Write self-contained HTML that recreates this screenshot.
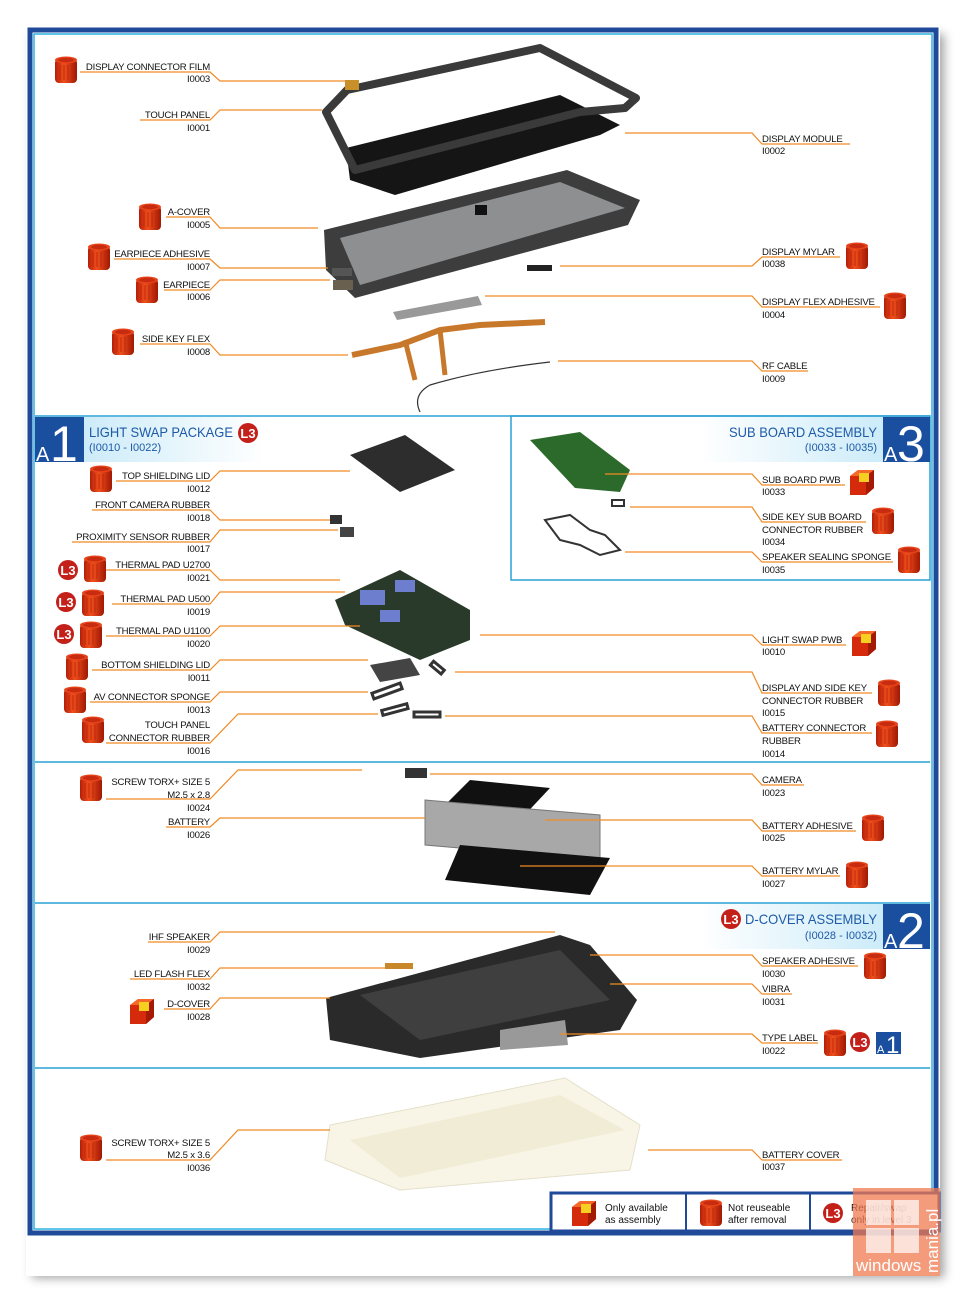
<!DOCTYPE html>
<html><head><meta charset="utf-8"><style>
html,body{margin:0;padding:0;background:#fff;width:967px;height:1302px;overflow:hidden}
svg{display:block;font-family:"Liberation Sans",sans-serif}
.l{font-size:9.6px;letter-spacing:-0.2px;fill:#111;text-anchor:end}
.r{font-size:9.6px;letter-spacing:-0.2px;fill:#111}
.o{stroke:#f08a24;stroke-width:1.2;fill:none}
.h{font-size:14px;fill:#1d5aa8}
.hs{font-size:11px;fill:#1d5aa8}
.sec{stroke:#2aa0d4;stroke-width:1.5;fill:none}
</style></head><body>
<svg width="967" height="1302" viewBox="0 0 967 1302" xmlns="http://www.w3.org/2000/svg">
<defs>
<filter id="sh" x="-5%" y="-5%" width="110%" height="110%"><feGaussianBlur stdDeviation="5"/></filter>
<linearGradient id="bin" x1="0" x2="1"><stop offset="0" stop-color="#b51e08"/><stop offset=".4" stop-color="#f0501c"/><stop offset="1" stop-color="#a01804"/></linearGradient>
<linearGradient id="hg" x1="0" x2="1"><stop offset="0" stop-color="#bfe6f7"/><stop offset="1" stop-color="#fff"/></linearGradient>
<linearGradient id="hg2" x1="1" x2="0"><stop offset="0" stop-color="#bfe6f7"/><stop offset="1" stop-color="#fff"/></linearGradient>
<g id="b"><rect x="0" y="3" width="22" height="24" rx="4" fill="url(#bin)"/><ellipse cx="11" cy="4" rx="11" ry="3.5" fill="#e8441a"/><ellipse cx="11" cy="4" rx="8" ry="2.2" fill="#c72c10"/><path d="M5 9v15M9 9v15M13 9v15M17 9v15" stroke="#c0270c" stroke-width="1"/></g>
<g id="c"><path d="M0 8 L8 2 L24 2 L24 20 L16 27 L0 27Z" fill="#d52a0c"/><path d="M0 8 L8 2 L24 2 L16 8Z" fill="#f56a2a"/><path d="M16 8 L24 2 L24 20 L16 27Z" fill="#a51a04"/><rect x="9" y="5" width="10" height="9" fill="#f5d020"/></g>
<g id="l3"><circle cx="10" cy="10" r="10" fill="#c4201a"/><text x="10" y="15" font-size="13" font-weight="bold" fill="#fff" text-anchor="middle">L3</text></g>
</defs>

<rect x="32" y="34" width="912" height="1244" fill="#555" opacity=".55" filter="url(#sh)"/>
<rect x="26" y="26" width="914" height="1250" fill="#fff"/>
<rect x="30" y="30" width="906" height="1203" fill="none" stroke="#1f4a9a" stroke-width="5"/>
<rect x="34" y="34" width="898" height="1195" fill="none" stroke="#2ab4e0" stroke-width="1.5"/>

<path class="sec" d="M35 416H930M35 762H930M35 903H930M35 1068H930"/>
<rect x="511" y="416" width="419" height="164" fill="none" stroke="#2aa0d4" stroke-width="1.5"/>

<rect x="35" y="417" width="230" height="45" fill="url(#hg)"/>
<rect x="35" y="417" width="49" height="45" fill="#1a4fa0"/>
<text x="36" y="461" font-size="20" fill="#fff">A</text>
<text x="50" y="461" font-size="50" fill="#fff">1</text>
<text class="h" x="89" y="437" textLength="144" lengthAdjust="spacingAndGlyphs">LIGHT SWAP PACKAGE</text>
<use href="#l3" x="238" y="423"/>
<text class="hs" x="89" y="451">(I0010 - I0022)</text>
<rect x="700" y="417" width="230" height="45" fill="url(#hg2)"/>
<rect x="883" y="417" width="47" height="45" fill="#1a4fa0"/>
<text x="884" y="461" font-size="20" fill="#fff">A</text>
<text x="897" y="461" font-size="50" fill="#fff">3</text>
<text class="h" x="877" y="437" text-anchor="end" textLength="148" lengthAdjust="spacingAndGlyphs">SUB BOARD ASSEMBLY</text>
<text class="hs" x="877" y="451" text-anchor="end">(I0033 - I0035)</text>
<rect x="700" y="904" width="230" height="45" fill="url(#hg2)"/>
<rect x="883" y="904" width="47" height="45" fill="#1a4fa0"/>
<text x="884" y="948" font-size="20" fill="#fff">A</text>
<text x="897" y="948" font-size="50" fill="#fff">2</text>
<text class="h" x="877" y="924" text-anchor="end" textLength="132" lengthAdjust="spacingAndGlyphs">D-COVER ASSEMBLY</text>
<use href="#l3" x="721" y="909"/>
<text class="hs" x="877" y="939" text-anchor="end">(I0028 - I0032)</text>

<!-- parts -->
<polygon points="346,148 560,95 620,125 600,135 395,195 350,180" fill="#151515"/>
<polygon points="347,90 540,48 636,98 625,108 580,112 355,170 326,112" fill="none" stroke="#3a3a3a" stroke-width="8" stroke-linejoin="round"/>
<rect x="345" y="80" width="14" height="10" fill="#c8902a"/>
<polygon points="324,230 567,170 640,200 628,225 355,298 326,270" fill="#3d3d3d"/>
<polygon points="340,238 560,182 625,208 360,285" fill="#8d8f90"/>
<rect x="475" y="205" width="12" height="10" fill="#111"/>
<polygon points="393,312 478,296 482,305 397,320" fill="#999"/>
<path d="M352,355 L400,345 L440,330 L480,325 L545,322" stroke="#c8782a" stroke-width="6" fill="none"/>
<path d="M405,340 L415,380 M440,330 L445,375" stroke="#c8782a" stroke-width="5"/>
<path d="M550,362 Q480,370 430,385 Q412,395 420,412" stroke="#333" stroke-width="1.2" fill="none"/>
<rect x="332" y="268" width="20" height="8" fill="#555"/><rect x="333" y="280" width="20" height="10" fill="#6a6050"/>
<rect x="527" y="265" width="25" height="6" fill="#222"/>
<polygon points="350,455 405,435 455,470 400,492" fill="#2d2d2d"/>
<rect x="330" y="515" width="12" height="9" fill="#333"/><rect x="340" y="527" width="14" height="10" fill="#444"/>
<polygon points="335,600 400,570 470,610 470,640 420,660 345,625" fill="#2a3a2a"/>
<rect x="360" y="590" width="25" height="15" fill="#6d7ecf"/><rect x="395" y="580" width="20" height="12" fill="#6d7ecf"/><rect x="380" y="610" width="20" height="12" fill="#6d7ecf"/>
<polygon points="370,665 410,658 420,675 380,682" fill="#444"/>
<rect x="372" y="688" width="30" height="6" fill="none" stroke="#333" stroke-width="3" transform="rotate(-20 387 691)"/>
<rect x="382" y="707" width="26" height="5" fill="none" stroke="#333" stroke-width="3" transform="rotate(-15 395 710)"/>
<rect x="414" y="712" width="26" height="5" fill="none" stroke="#333" stroke-width="3"/>
<rect x="430" y="665" width="14" height="5" fill="none" stroke="#333" stroke-width="3" transform="rotate(40 437 668)"/>
<polygon points="530,440 580,432 630,470 620,492 575,488" fill="#2b6a2b"/>
<path d="M545,520 L570,515 L590,530 L605,535 L620,550 L600,555 L580,545 L560,540 Z" fill="none" stroke="#333" stroke-width="2"/>
<rect x="612" y="500" width="12" height="6" fill="none" stroke="#333" stroke-width="2"/>
<rect x="405" y="768" width="22" height="10" fill="#333"/>
<polygon points="470,780 550,788 520,820 440,810" fill="#111"/>
<polygon points="425,800 600,815 600,860 425,845" fill="#a8a8a8" stroke="#777"/>
<polygon points="460,845 610,858 590,895 445,880" fill="#111"/>
<polygon points="326,998 560,935 590,945 637,1000 620,1030 420,1058 330,1040" fill="#2a2a2a"/>
<polygon points="360,995 560,950 610,1000 420,1040" fill="#3f3f3f"/>
<polygon points="500,1030 565,1020 568,1045 500,1050" fill="#999"/>
<rect x="385" y="963" width="28" height="6" fill="#c8882a"/>
<polygon points="330,1125 565,1078 640,1125 630,1170 400,1190 325,1160" fill="#f8f5e6" stroke="#e4e0cc"/>
<polygon points="350,1140 560,1095 625,1130 400,1178" fill="#f1ecd6"/>

<g class="o">
<path d="M80 72H210L220 81H345"/>
<path d="M140 120H210L220 110H322"/>
<path d="M166 217H210L220 228H318"/>
<path d="M114 259H210L220 268H328"/>
<path d="M164 290H210L220 280H330"/>
<path d="M140 344H210L220 355H348"/>
<path d="M116 481H210L220 471H350"/>
<path d="M92 510H210L220 520H330"/>
<path d="M72 542H210L220 530H338"/>
<path d="M106 570H210L220 580H340"/>
<path d="M112 604H210L220 592H345"/>
<path d="M106 636H210L220 626H360"/>
<path d="M92 670H210L220 660H368"/>
<path d="M90 702H210L220 692H368"/>
<path d="M106 743H210L238 714H378"/>
<path d="M106 799H210L238 770H362"/>
<path d="M166 827H210L220 818H425"/>
<path d="M148 942H210L220 932H555"/>
<path d="M130 979H210L220 968H385"/>
<path d="M164 1009H210L220 998H330"/>
<path d="M106 1160H210L238 1130H330"/>
</g>
<g class="o">
<path d="M625 133H752L762 144H850"/>
<path d="M560 266H752L762 257H840"/>
<path d="M485 296H752L762 307H880"/>
<path d="M558 361H752L762 371H808"/>
<path d="M605 474H752L762 485H845"/>
<path d="M630 507H752L762 522H866"/>
<path d="M625 552H752L762 562H893"/>
<path d="M480 635H752L762 645H846"/>
<path d="M455 672H752L762 693H872"/>
<path d="M445 716H752L762 733H872"/>
<path d="M430 774H752L762 785H804"/>
<path d="M545 820H752L762 831H856"/>
<path d="M520 866H752L762 876H840"/>
<path d="M590 955H752L762 966H858"/>
<path d="M610 984H752L762 994H792"/>
<path d="M560 1034H752L762 1043H818"/>
<path d="M648 1150H752L762 1160H842"/>
</g>

<text class="l" x="210" y="70">DISPLAY CONNECTOR FILM</text><text class="l" x="210" y="82">I0003</text>
<text class="l" x="210" y="118">TOUCH PANEL</text><text class="l" x="210" y="131">I0001</text>
<text class="l" x="210" y="215">A-COVER</text><text class="l" x="210" y="228">I0005</text>
<text class="l" x="210" y="257">EARPIECE ADHESIVE</text><text class="l" x="210" y="270">I0007</text>
<text class="l" x="210" y="288">EARPIECE</text><text class="l" x="210" y="300">I0006</text>
<text class="l" x="210" y="342">SIDE KEY FLEX</text><text class="l" x="210" y="355">I0008</text>
<text class="l" x="210" y="479">TOP SHIELDING LID</text><text class="l" x="210" y="492">I0012</text>
<text class="l" x="210" y="508">FRONT CAMERA RUBBER</text><text class="l" x="210" y="521">I0018</text>
<text class="l" x="210" y="540">PROXIMITY SENSOR RUBBER</text><text class="l" x="210" y="552">I0017</text>
<text class="l" x="210" y="568">THERMAL PAD U2700</text><text class="l" x="210" y="581">I0021</text>
<text class="l" x="210" y="602">THERMAL PAD U500</text><text class="l" x="210" y="615">I0019</text>
<text class="l" x="210" y="634">THERMAL PAD U1100</text><text class="l" x="210" y="647">I0020</text>
<text class="l" x="210" y="668">BOTTOM SHIELDING LID</text><text class="l" x="210" y="681">I0011</text>
<text class="l" x="210" y="700">AV CONNECTOR SPONGE</text><text class="l" x="210" y="713">I0013</text>
<text class="l" x="210" y="728">TOUCH PANEL</text><text class="l" x="210" y="741">CONNECTOR RUBBER</text><text class="l" x="210" y="754">I0016</text>
<text class="l" x="210" y="785">SCREW TORX+ SIZE 5</text><text class="l" x="210" y="798">M2.5 x 2.8</text><text class="l" x="210" y="811">I0024</text>
<text class="l" x="210" y="825">BATTERY</text><text class="l" x="210" y="838">I0026</text>
<text class="l" x="210" y="940">IHF SPEAKER</text><text class="l" x="210" y="953">I0029</text>
<text class="l" x="210" y="977">LED FLASH FLEX</text><text class="l" x="210" y="990">I0032</text>
<text class="l" x="210" y="1007">D-COVER</text><text class="l" x="210" y="1020">I0028</text>
<text class="l" x="210" y="1146">SCREW TORX+ SIZE 5</text><text class="l" x="210" y="1158">M2.5 x 3.6</text><text class="l" x="210" y="1171">I0036</text>

<text class="r" x="762" y="142">DISPLAY MODULE</text><text class="r" x="762" y="154">I0002</text>
<text class="r" x="762" y="255">DISPLAY MYLAR</text><text class="r" x="762" y="267">I0038</text>
<text class="r" x="762" y="305">DISPLAY FLEX ADHESIVE</text><text class="r" x="762" y="318">I0004</text>
<text class="r" x="762" y="369">RF CABLE</text><text class="r" x="762" y="382">I0009</text>
<text class="r" x="762" y="483">SUB BOARD PWB</text><text class="r" x="762" y="495">I0033</text>
<text class="r" x="762" y="520">SIDE KEY SUB BOARD</text><text class="r" x="762" y="533">CONNECTOR RUBBER</text><text class="r" x="762" y="545">I0034</text>
<text class="r" x="762" y="560">SPEAKER SEALING SPONGE</text><text class="r" x="762" y="573">I0035</text>
<text class="r" x="762" y="643">LIGHT SWAP PWB</text><text class="r" x="762" y="655">I0010</text>
<text class="r" x="762" y="691">DISPLAY AND SIDE KEY</text><text class="r" x="762" y="704">CONNECTOR RUBBER</text><text class="r" x="762" y="716">I0015</text>
<text class="r" x="762" y="731">BATTERY CONNECTOR</text><text class="r" x="762" y="744">RUBBER</text><text class="r" x="762" y="757">I0014</text>
<text class="r" x="762" y="783">CAMERA</text><text class="r" x="762" y="796">I0023</text>
<text class="r" x="762" y="829">BATTERY ADHESIVE</text><text class="r" x="762" y="841">I0025</text>
<text class="r" x="762" y="874">BATTERY MYLAR</text><text class="r" x="762" y="887">I0027</text>
<text class="r" x="762" y="964">SPEAKER ADHESIVE</text><text class="r" x="762" y="977">I0030</text>
<text class="r" x="762" y="992">VIBRA</text><text class="r" x="762" y="1005">I0031</text>
<text class="r" x="762" y="1041">TYPE LABEL</text><text class="r" x="762" y="1054">I0022</text>
<text class="r" x="762" y="1158">BATTERY COVER</text><text class="r" x="762" y="1170">I0037</text>

<use href="#b" x="55" y="56"/><use href="#b" x="139" y="203"/><use href="#b" x="88" y="243"/>
<use href="#b" x="136" y="276"/><use href="#b" x="112" y="328"/><use href="#b" x="90" y="465"/>
<use href="#l3" x="58" y="560"/><use href="#b" x="84" y="555"/>
<use href="#l3" x="56" y="592"/><use href="#b" x="82" y="589"/>
<use href="#l3" x="54" y="624"/><use href="#b" x="80" y="621"/>
<use href="#b" x="66" y="653"/><use href="#b" x="64" y="686"/><use href="#b" x="82" y="716"/>
<use href="#b" x="80" y="774"/><use href="#c" x="130" y="997"/><use href="#b" x="80" y="1134"/>
<use href="#b" x="846" y="242"/><use href="#b" x="884" y="292"/><use href="#c" x="850" y="468"/>
<use href="#b" x="872" y="507"/><use href="#b" x="898" y="546"/><use href="#c" x="852" y="629"/>
<use href="#b" x="878" y="679"/><use href="#b" x="876" y="720"/><use href="#b" x="862" y="814"/>
<use href="#b" x="846" y="861"/><use href="#b" x="864" y="952"/><use href="#b" x="824" y="1029"/>
<use href="#l3" x="850" y="1032"/>
<rect x="876" y="1032" width="25" height="22" fill="#1a4fa0"/><text x="877" y="1053" font-size="11" fill="#fff">A</text><text x="886" y="1053" font-size="24" fill="#fff">1</text>

<rect x="551" y="1193" width="388" height="38" fill="#fff" stroke="#1f4a9a" stroke-width="3"/>
<path d="M686 1194V1230M810 1194V1230" stroke="#1f4a9a" stroke-width="2"/>
<use href="#c" x="572" y="1199"/>
<text x="605" y="1211" font-size="10" fill="#111">Only available</text><text x="605" y="1223" font-size="10" fill="#111">as assembly</text>
<use href="#b" x="700" y="1199"/>
<text x="728" y="1211" font-size="10" fill="#111">Not reuseable</text><text x="728" y="1223" font-size="10" fill="#111">after removal</text>
<use href="#l3" x="823" y="1203"/>
<text x="851" y="1211" font-size="10" fill="#111">Repair/swap</text><text x="851" y="1223" font-size="10" fill="#111">only in level 3</text>

<rect x="853" y="1188" width="87" height="88" fill="#f07a50" opacity=".75"/>
<rect x="866" y="1200" width="25" height="25" fill="#fff" opacity=".7"/><rect x="894" y="1200" width="25" height="25" fill="#fff" opacity=".7"/>
<rect x="866" y="1228" width="25" height="25" fill="#fff" opacity=".7"/><rect x="894" y="1228" width="25" height="25" fill="#fff" opacity=".7"/>
<text x="856" y="1271" font-size="17" fill="#fff">windows</text>
<text x="0" y="0" font-size="17" fill="#fff" transform="translate(938 1273) rotate(-90)">mania.pl</text>
</svg>
</body></html>
